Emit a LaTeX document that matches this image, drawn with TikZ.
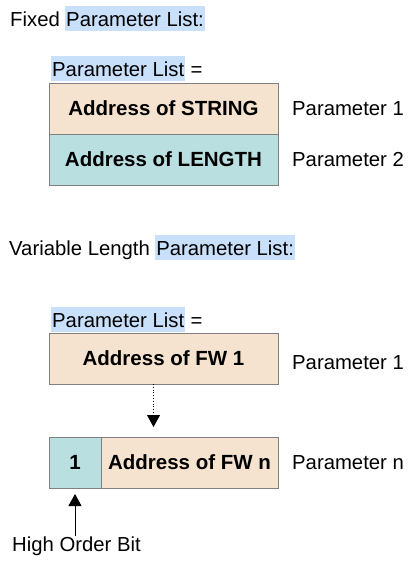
\documentclass[tikz,border=0pt]{standalone}
\usepackage{fontspec}
\setmainfont{Liberation Sans}
\usepackage{xcolor}
\usetikzlibrary{positioning,arrows.meta}
\definecolor{fieldcolora}{HTML}{F5E3CF}
\definecolor{fieldcolorb}{HTML}{B9DFE1}
\definecolor{hilitecolor}{HTML}{C9E0FB}
\definecolor{edgecolor}{HTML}{808080}
\tikzstyle{plaintext} = [
    inner sep=0pt,
    font=\fontsize{20.3}{24}\selectfont
    ]
\tikzstyle{hilite} = [
    plaintext,
    fill=hilitecolor,
    inner xsep=1pt,
    text height=20pt,
    text depth=5pt
    ]
\tikzstyle{fieldbox} = [
    draw=edgecolor,
    line width=0.8pt,
    rectangle,
    minimum height=51pt,
    inner sep=0pt,
    outer sep=0pt,
    font=\fontsize{20.5}{24}\selectfont\bfseries
    ]
\tikzstyle{pointer} = [
    line width=0.8pt,
    -{Triangle[width=13pt,length=12pt]}
    ]

\begin{document}
\begin{tikzpicture}[x=1pt,y=-1pt]
\useasboundingbox (0,0) rectangle (418,566);
% fixed list
\node[plaintext, anchor=base west] (fixed) at (10,26) {Fixed};
\node[hilite, anchor=base west] (fixedlist) at ([xshift=5pt]fixed.base east) {Parameter List:};
\node[hilite, anchor=base west] (listone) at (51,76) {Parameter List};
\node[plaintext, anchor=base west] (listoneeq) at ([xshift=5pt]listone.base east) {=};
\node[fieldbox, fill=fieldcolora, minimum width=229pt, anchor=north west] (string) at (49,83) {Address of STRING};
\node[fieldbox, fill=fieldcolorb, minimum width=229pt, below=0pt of string] (length) {Address of LENGTH};
\node[plaintext, right=14pt of string] (paramone) {Parameter 1};
\node[plaintext, right=14pt of length] (paramtwo) {Parameter 2};

% variable length list
\node[plaintext, anchor=base west] (varlen) at (9,255) {Variable Length};
\node[hilite, anchor=base west] (varlist) at ([xshift=5pt]varlen.base east) {Parameter List:};
\node[hilite, anchor=base west] (listtwo) at (51,327) {Parameter List};
\node[plaintext, anchor=base west] (listtwoeq) at ([xshift=5pt]listtwo.base east) {=};
\node[fieldbox, fill=fieldcolora, minimum width=229pt, anchor=north west] (fwone) at (49,333) {Address of FW 1};
\node[plaintext, right=14pt of fwone, yshift=-4pt] (paramfwone) {Parameter 1};
\node[fieldbox, fill=fieldcolorb, minimum width=52pt, anchor=north west] (flag) at (49,437) {1};
\node[fieldbox, fill=fieldcolora, minimum width=177pt, right=0pt of flag] (fwn) {Address of FW n};
\node[plaintext, right=14pt of fwn] (paramfwn) {Parameter n};
\node[plaintext, anchor=base west] (hob) at (12,551) {High Order Bit};

\draw[pointer, dotted, shorten >=10pt] ([xshift=-10pt]fwone.south) -- ([xshift=-10pt]fwone.south |- fwn.north);
\draw[pointer, shorten >=6pt] (hob.north -| flag.south) -- (flag.south);
\end{tikzpicture}
\end{document}
